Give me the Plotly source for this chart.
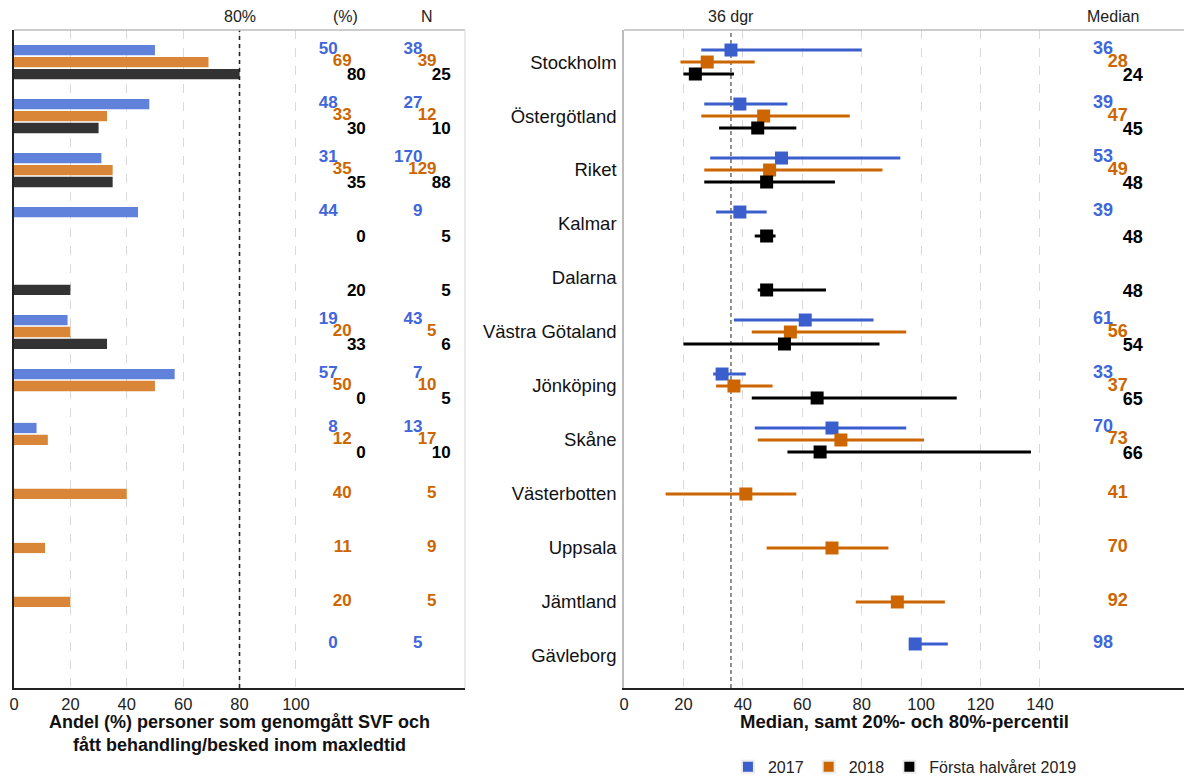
import plotly.graph_objects as go

# Regions, top to bottom
regions = ["Stockholm", "Östergötland", "Riket", "Kalmar", "Dalarna", "Västra Götaland",
           "Jönköping", "Skåne", "Västerbotten", "Uppsala", "Jämtland", "Gävleborg"]

series_names = ["2017", "2018", "Första halvåret 2019"]

# Share (%) treated within max lead time, and number of persons (N)
pct_2017 = [50, 48, 31, 44, None, 19, 57, 8, None, None, None, 0]
n_2017 = [38, 27, 170, 9, None, 43, 7, 13, None, None, None, 5]
pct_2018 = [69, 33, 35, None, None, 20, 50, 12, 40, 11, 20, None]
n_2018 = [39, 12, 129, None, None, 5, 10, 17, 5, 9, 5, None]
pct_2019 = [80, 30, 35, 0, 20, 33, 0, 0, None, None, None, None]
n_2019 = [25, 10, 88, 5, 5, 6, 5, 10, None, None, None, None]

# Lead time in days: median, 20th and 80th percentile
med_2017 = [36, 39, 53, 39, None, 61, 33, 70, None, None, None, 98]
p20_2017 = [26, 27, 29, 31, None, 37, 30, 44, None, None, None, 97]
p80_2017 = [80, 55, 93, 48, None, 84, 41, 95, None, None, None, 109]
med_2018 = [28, 47, 49, None, None, 56, 37, 73, 41, 70, 92, None]
p20_2018 = [19, 26, 27, None, None, 43, 31, 45, 14, 48, 78, None]
p80_2018 = [44, 76, 87, None, None, 95, 50, 101, 58, 89, 108, None]
med_2019 = [24, 45, 48, 48, 48, 54, 65, 66, None, None, None, None]
p20_2019 = [20, 32, 27, 44, 45, 20, 43, 55, None, None, None, None]
p80_2019 = [37, 58, 71, 51, 68, 86, 112, 137, None, None, None, None]

target_pct = 80
target_days = 36

left_ticks = [0, 20, 40, 60, 80, 100]
right_ticks = [0, 20, 40, 60, 80, 100, 120, 140]

BAR_COLORS = ["#6182DB", "#D98638", "#333333"]
TEXT_COLORS = ["#3F66DA", "#CD6600", "#000000"]
DOT_COLORS = ["#3A5FCD", "#CD6600", "#000000"]
OFFSETS = [-0.222, 0.0, 0.222]
TEXT_OFFSETS = [-0.23, 0.0, 0.26]

SANS = "Liberation Sans, Arial, sans-serif"
NARROW = "Liberation Sans Narrow, Arial Narrow, Liberation Sans, Arial, sans-serif"

pct = [pct_2017, pct_2018, pct_2019]
ns = [n_2017, n_2018, n_2019]
meds = [med_2017, med_2018, med_2019]
p20s = [p20_2017, p20_2018, p20_2019]
p80s = [p80_2017, p80_2018, p80_2019]

rows = list(range(len(regions)))

fig = go.Figure()

# Left panel: horizontal bars with value and N columns
for k in range(3):
    keep = [i for i in rows if pct[k][i] is not None]
    fig.add_trace(go.Bar(
        x=[pct[k][i] for i in keep], y=[i + OFFSETS[k] for i in keep],
        orientation="h", width=0.19, marker=dict(color=BAR_COLORS[k], line_width=0),
        xaxis="x", yaxis="y", showlegend=False, hoverinfo="skip"))
    fig.add_trace(go.Scatter(
        x=[114.8 + 5 * k] * len(keep), y=[i + TEXT_OFFSETS[k] for i in keep],
        text=[str(pct[k][i]) for i in keep], mode="text", textposition="middle left",
        textfont=dict(family=SANS, size=17, color=TEXT_COLORS[k], weight="bold"),
        xaxis="x", yaxis="y", showlegend=False, hoverinfo="skip"))
    fig.add_trace(go.Scatter(
        x=[144.9 + 5 * k] * len(keep), y=[i + TEXT_OFFSETS[k] for i in keep],
        text=[str(ns[k][i]) for i in keep], mode="text", textposition="middle left",
        textfont=dict(family=SANS, size=17, color=TEXT_COLORS[k], weight="bold"),
        xaxis="x", yaxis="y", showlegend=False, hoverinfo="skip"))

# Right panel: median with 20-80 percentile range
for k in range(3):
    keep = [i for i in rows if meds[k][i] is not None]
    fig.add_trace(go.Scatter(
        x=[meds[k][i] for i in keep], y=[i + OFFSETS[k] for i in keep],
        mode="markers",
        marker=dict(symbol="square", size=13, color=DOT_COLORS[k]),
        error_x=dict(type="data", symmetric=False,
                     array=[p80s[k][i] - meds[k][i] for i in keep],
                     arrayminus=[meds[k][i] - p20s[k][i] for i in keep],
                     color=DOT_COLORS[k], thickness=3, width=0),
        xaxis="x2", yaxis="y2", showlegend=False, hoverinfo="skip"))
    fig.add_trace(go.Scatter(
        x=[164.6 + 5 * k] * len(keep), y=[i + TEXT_OFFSETS[k] for i in keep],
        text=[str(meds[k][i]) for i in keep], mode="text", textposition="middle left",
        textfont=dict(family=NARROW, size=18, color=TEXT_COLORS[k], weight="bold"),
        xaxis="x2", yaxis="y2", showlegend=False, hoverinfo="skip"))

# Legend entries
for k in range(3):
    fig.add_trace(go.Scatter(
        x=[None], y=[None], mode="markers", name=series_names[k],
        marker=dict(symbol="square", size=11, color=DOT_COLORS[k],
                    line=dict(color="#EBEBEB", width=3)),
        xaxis="x2", yaxis="y2", showlegend=True))

yrange = [len(regions) - 0.407, -0.593]

fig.update_layout(
    width=1184, height=776,
    margin=dict(l=14, r=0, t=30, b=88, autoexpand=False),
    plot_bgcolor="white", paper_bgcolor="white",
    font=dict(family=SANS, size=15, color="#222222"),
    barmode="overlay",
    xaxis=dict(domain=[0, 0.3855], range=[0, 160], tickvals=left_ticks,
               ticks="", showgrid=True, gridcolor="#D9D9D9", griddash="dash", gridwidth=1,
               showline=True, linecolor="#222222", linewidth=1.5, zeroline=False,
               tickfont=dict(size=16.5, color="#222222"), fixedrange=True),
    yaxis=dict(domain=[0, 1], range=yrange, showticklabels=False, ticks="",
               showgrid=False, zeroline=False, showline=True, linecolor="#222222",
               linewidth=1.5, anchor="x"),
    xaxis2=dict(domain=[0.5214, 1], range=[0, 188.5], tickvals=right_ticks,
                ticks="", showgrid=True, gridcolor="#D9D9D9", griddash="dash", gridwidth=1,
                showline=True, linecolor="#222222", linewidth=1.5, zeroline=False,
                tickfont=dict(family=NARROW, size=16.5, color="#222222"), anchor="y2"),
    yaxis2=dict(domain=[0, 1], range=yrange, tickvals=rows, ticktext=regions, ticks="",
                showgrid=False, zeroline=False, showline=True, linecolor="#BDBDBD",
                linewidth=1.5, anchor="x2", ticklabelstandoff=2,
                tickfont=dict(family=NARROW, size=18.5, color="#111111")),
    legend=dict(orientation="h", x=0.7615, xanchor="center", y=-0.12, yanchor="middle",
                font=dict(family=SANS, size=16, color="#222222"),
                itemsizing="constant", itemwidth=30, tracegroupgap=0),
)

# Reference lines and panel frames
fig.add_shape(type="line", xref="x", yref="paper", x0=target_pct, x1=target_pct, y0=0, y1=1,
              line=dict(color="#222222", width=1.6, dash="4px,4px"), layer="above")
fig.add_shape(type="line", xref="x2", yref="paper", x0=target_days, x1=target_days, y0=0, y1=1,
              line=dict(color="#222222", width=1, dash="4px,3px"), layer="below")
fig.add_shape(type="line", xref="paper", yref="paper", x0=0, x1=0.3855, y0=1, y1=1,
              line=dict(color="#BDBDBD", width=1.5))
fig.add_shape(type="line", xref="paper", yref="paper", x0=0.3855, x1=0.3855, y0=0, y1=1,
              line=dict(color="#E3E3E3", width=1.5))
fig.add_shape(type="line", xref="paper", yref="paper", x0=0.5214, x1=1, y0=1, y1=1,
              line=dict(color="#BDBDBD", width=1.5))

# Column headers and axis titles
fig.add_annotation(xref="x", yref="paper", x=target_pct, y=1.0, yanchor="bottom", yshift=3,
                   xanchor="center", text=f"{target_pct}%", showarrow=False,
                   font=dict(size=16, color="#222222"))
fig.add_annotation(xref="x", yref="paper", x=117.5, y=1.0, yanchor="bottom", yshift=3,
                   xanchor="center", text="(%)", showarrow=False,
                   font=dict(size=16, color="#222222"))
fig.add_annotation(xref="x", yref="paper", x=146.5, y=1.0, yanchor="bottom", yshift=3,
                   xanchor="center", text="N", showarrow=False,
                   font=dict(size=16, color="#222222"))
fig.add_annotation(xref="x2", yref="paper", x=target_days, y=1.0, yanchor="bottom", yshift=3,
                   xanchor="center", text=f"{target_days} dgr", showarrow=False,
                   font=dict(family=NARROW, size=16, color="#222222"))
fig.add_annotation(xref="x2", yref="paper", x=164.5, y=1.0, yanchor="bottom", yshift=3,
                   xanchor="center", text="Median", showarrow=False,
                   font=dict(family=NARROW, size=16, color="#222222"))
fig.add_annotation(xref="paper", yref="paper", x=0.193, y=-0.069, yanchor="middle",
                   xanchor="center",
                   text="<b>Andel (%) personer som genomgått SVF och<br>fått behandling/besked inom maxledtid</b>",
                   showarrow=False, font=dict(size=18, color="#111111"))
fig.add_annotation(xref="paper", yref="paper", x=0.7615, y=-0.051, yanchor="middle",
                   xanchor="center",
                   text="<b>Median, samt 20%- och 80%-percentil</b>",
                   showarrow=False, font=dict(family=NARROW, size=18.5, color="#111111"))

fig.write_html("out.html")
